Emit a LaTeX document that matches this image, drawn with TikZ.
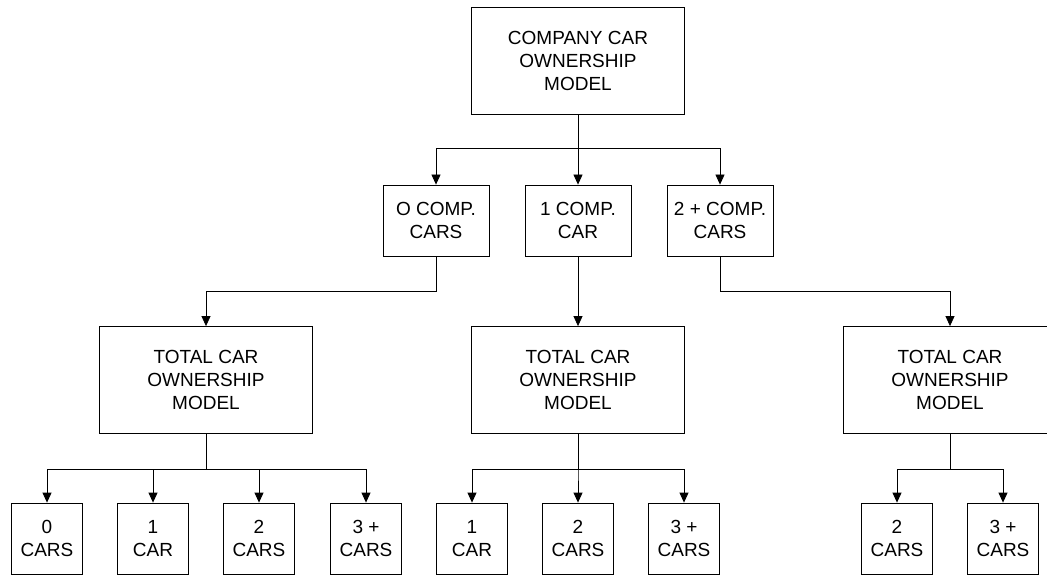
\documentclass[tikz,border=0pt]{standalone}
\usepackage{fontspec}
\setmainfont{Liberation Sans}
\usetikzlibrary{arrows.meta}
\tikzset{
  modelbox/.style={draw, line width=0.8pt, align=center, inner sep=0pt,
    font=\fontsize{19}{23}\selectfont},
  bigbox/.style={modelbox, minimum width=213pt, minimum height=107pt},
  compbox/.style={modelbox, minimum width=106pt, minimum height=71pt},
  carbox/.style={modelbox, minimum width=71pt, minimum height=71pt},
  feed/.style={line width=0.8pt, -{Triangle[length=10pt,width=9pt]}}
}
\newcommand{\fork}[2]{\draw[feed] (#1.south) -- ++(0,35) -| (#2.north);}

\begin{document}
\begin{tikzpicture}[x=1pt,y=-1pt]
\useasboundingbox (0,0) rectangle (1047,575);
% top level
\node[bigbox] (top) at (578,60.5) {COMPANY CAR\\OWNERSHIP\\MODEL};
\node[compbox] (m0) at (436,220.5) {O COMP.\\CARS};
\node[compbox] (m1) at (578,220.5) {1 COMP.\\CAR};
\node[compbox] (m2) at (720,220.5) {2 + COMP.\\CARS};
\draw[feed] (top.south) -- ++(0,34) -| (m0.north);
\draw[feed] (top.south) -- (m1.north);
\draw[feed] (top.south) -- ++(0,34) -| (m2.north);
% total car ownership models
\foreach \i/\x in {0/206,1/578,2/950}{
  \node[bigbox] (t\i) at (\x,380) {TOTAL CAR\\OWNERSHIP\\MODEL};
}
\fork{m0}{t0}
\draw[feed] (m1.south) -- (t1.north);
\fork{m2}{t2}
% car counts
\foreach \j/\x/\txt in {0/47/{0\\CARS},1/153/{1\\CAR},2/259/{2\\CARS},3/366/{3 +\\CARS}}{
  \node[carbox] (a\j) at (\x,538.5) {\txt};
  \fork{t0}{a\j}
}
\foreach \j/\x/\txt in {1/472/{1\\CAR},2/578/{2\\CARS},3/684/{3 +\\CARS}}{
  \node[carbox] (b\j) at (\x,538.5) {\txt};
  \fork{t1}{b\j}
}
\foreach \j/\x/\txt in {2/897/{2\\CARS},3/1003/{3 +\\CARS}}{
  \node[carbox] (c\j) at (\x,538.5) {\txt};
  \fork{t2}{c\j}
}
\end{tikzpicture}
\end{document}
